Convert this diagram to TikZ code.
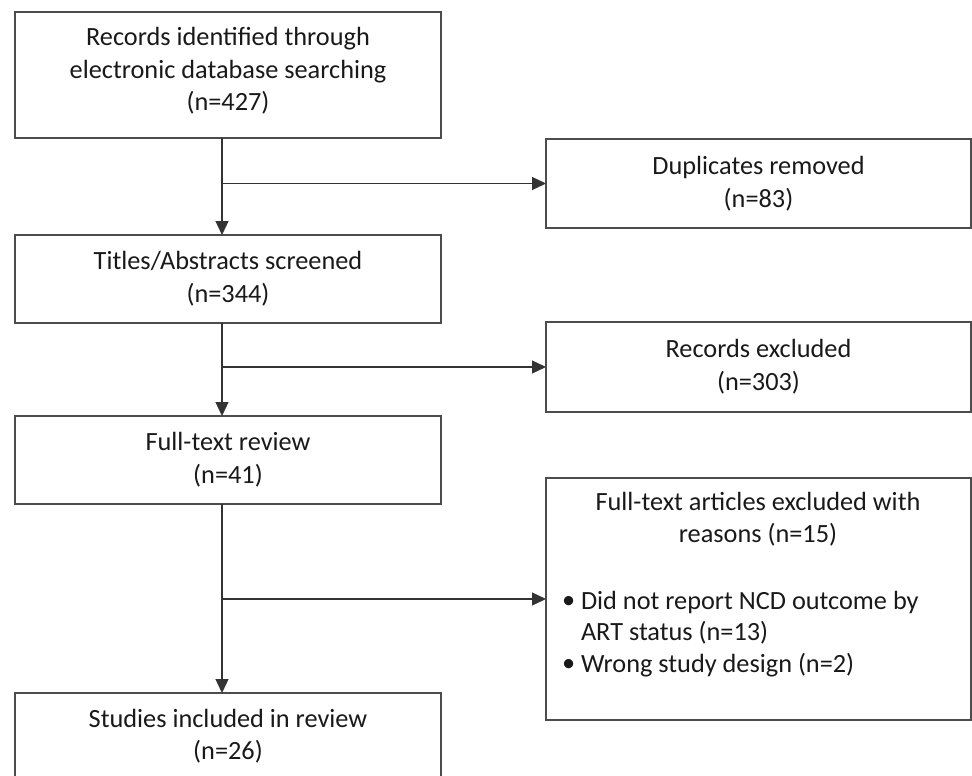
\documentclass[tikz,border=0pt]{standalone}
\usepackage{fontspec}
\setmainfont{Carlito}
\usetikzlibrary{arrows.meta}
\begin{document}
\begin{tikzpicture}[x=1pt,y=-1pt,
  box/.style={draw=black!70, line width=1.4pt, inner sep=0pt, outer sep=0pt, align=center,
    font=\fontsize{26.3}{33}\selectfont, text=black!90},
  lbl/.style={inner sep=0pt, outer sep=0pt, font=\fontsize{26.3}{32.5}\selectfont, text=black!90},
  arr/.style={draw=black!80, line width=1.3pt, -{Triangle[length=14pt,width=13pt]}},
  ln/.style={draw=black!80, line width=1.3pt}]
\useasboundingbox (0,0) rectangle (972,776);
\begin{scope}
\clip (0,0) rectangle (972,776);
\node[box, minimum width=426pt, minimum height=126pt] (b1) at (228,75) {};
\node[lbl, align=center] (t1) at (228,71) {Records identified through\\electronic database searching\\(n=427)};
\node[box, minimum width=425pt, minimum height=89pt] (dup) at (758.5,183.5) {Duplicates removed\\(n=83)};
\node[box, minimum width=426pt, minimum height=88pt] (b2) at (228,279) {Titles/Abstracts screened\\(n=344)};
\node[box, minimum width=425pt, minimum height=90pt] (rex) at (758.5,367) {Records excluded\\(n=303)};
\node[box, minimum width=426pt, minimum height=88pt] (b3) at (228,460) {Full-text review\\(n=41)};
\node[box, minimum width=425pt, minimum height=242pt] (fte) at (758.5,599) {};
\node[lbl, align=center] (ftt) at (758,519) {Full-text articles excluded with\\reasons (n=15)};
\node[lbl, anchor=west] (bu1) at (562,602) {\textbullet};
\node[lbl, anchor=west] (r1) at (581,602) {Did not report NCD outcome by};
\node[lbl, anchor=west] (r1b) at (581,633) {ART status (n=13)};
\node[lbl, anchor=west] (bu2) at (562,665) {\textbullet};
\node[lbl, anchor=west] (r2) at (581,665) {Wrong study design (n=2)};
\node[box, minimum width=426pt, minimum height=96pt] (b4) at (228,741) {};
\node[lbl, align=center] (t4) at (228,736) {Studies included in review\\(n=26)};
\end{scope}
\draw[arr] ([xshift=-6pt]b1.south) -- ([xshift=-6pt]b2.north);
\draw[arr] ([xshift=-6pt]b1.south |- dup.west) -- (dup.west);
\draw[arr] ([xshift=-6pt]b2.south) -- ([xshift=-6pt]b3.north);
\draw[arr] ([xshift=-6pt]b2.south |- rex.west) -- (rex.west);
\draw[arr] ([xshift=-6pt]b3.south) -- ([xshift=-6pt]b4.north);
\draw[arr] ([xshift=-6pt]b3.south |- fte.west) -- (fte.west);
\end{tikzpicture}
\end{document}
